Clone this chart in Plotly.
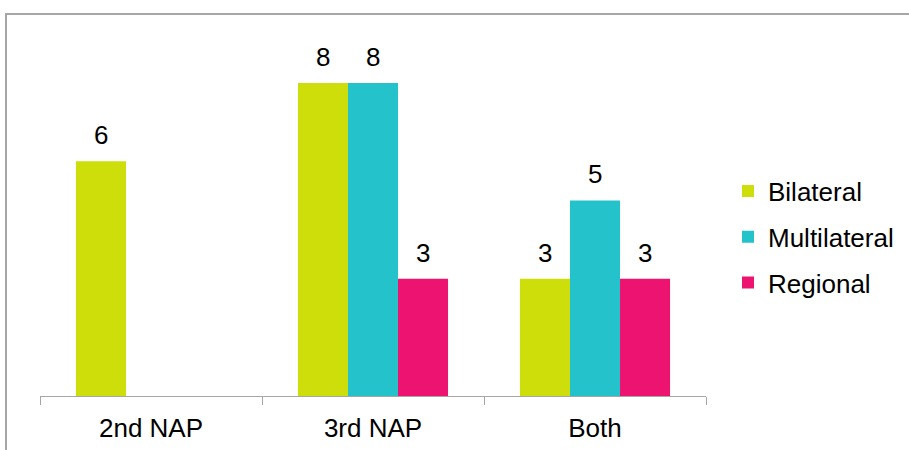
import plotly.graph_objects as go

# Number of actions per National Action Plan, by type of cooperation
categories = ["2nd NAP", "3rd NAP", "Both"]
series_names = ["Bilateral", "Multilateral", "Regional"]
bilateral = [6, 8, 3]
multilateral = [None, 8, 5]
regional = [None, 3, 3]
series_values = [bilateral, multilateral, regional]
series_colors = ["#CEDE0A", "#24C2CA", "#EC1470"]

FONT = "Liberation Sans, Arial, sans-serif"
FS = 26
W, H = 909, 450
ML, MR, MT, MB = 40, 203, 44, 54
BARGAP = 0.324
Y_MAX = 9

fig = go.Figure()
for name, vals, col in zip(series_names, series_values, series_colors):
    fig.add_trace(go.Bar(
        name=name, x=categories, y=vals,
        marker=dict(color=col, line=dict(width=0)),
        legendgroup=name,
    ))

# value labels above each bar, placed at the grouped-bar offsets
n = len(series_names)
bar_w = (1 - BARGAP) / n
annotations = []
for k, vals in enumerate(series_values):
    for i, v in enumerate(vals):
        if v is None:
            continue
        annotations.append(dict(
            x=i + (k - (n - 1) / 2) * bar_w, y=v, xref="x", yref="y",
            text=str(v), showarrow=False, yanchor="middle", yshift=26,
            font=dict(family=FONT, size=FS, color="#000000"),
        ))

# outer frame: top and left edges of the chart area
pw, ph = W - ML - MR, H - MT - MB
def px_to_paper_x(px):
    return (px - ML) / pw
def px_to_paper_y(py):
    return (H - MB - py) / ph

frame_path = "M {x0},{y1} L {x0},{y0} L {x1},{y0}".format(
    x0=px_to_paper_x(6), y0=px_to_paper_y(14),
    x1=px_to_paper_x(W + 5), y1=px_to_paper_y(H + 5),
)

fig.update_layout(
    width=W, height=H,
    margin=dict(l=ML, r=MR, t=MT, b=MB, pad=0, autoexpand=False),
    paper_bgcolor="white", plot_bgcolor="white",
    barmode="group", bargap=BARGAP, bargroupgap=0,
    font=dict(family=FONT, size=FS, color="#000000"),
    showlegend=True,
    legend=dict(
        x=px_to_paper_x(728), y=px_to_paper_y(237),
        xanchor="left", yanchor="middle",
        font=dict(family=FONT, size=FS, color="#000000"),
        traceorder="grouped", tracegroupgap=9,
        bgcolor="rgba(0,0,0,0)", borderwidth=0,
    ),
    xaxis=dict(
        type="category", automargin=False,
        showline=True, linecolor="#A6A6A6", linewidth=1,
        ticks="outside", tickson="boundaries", ticklen=8,
        tickcolor="#A6A6A6", tickwidth=1,
        ticklabelstandoff=9,
        showgrid=False, zeroline=False,
        tickfont=dict(family=FONT, size=FS, color="#000000"),
    ),
    yaxis=dict(range=[0, Y_MAX], visible=False, showgrid=False, zeroline=False),
    annotations=annotations,
    shapes=[dict(
        type="path", path=frame_path, xref="paper", yref="paper",
        line=dict(color="#A6A6A6", width=2),
    )],
)

fig.write_html("out.html")
